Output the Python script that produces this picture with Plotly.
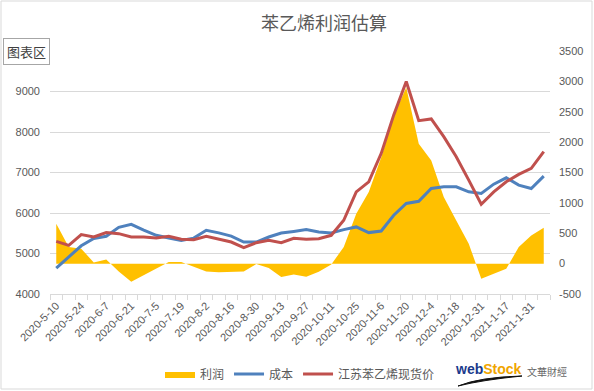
import plotly.graph_objects as go

# ---- data ----
dates = [
    "2020-5-10", "2020-5-17", "2020-5-24", "2020-5-31", "2020-6-7", "2020-6-14",
    "2020-6-21", "2020-6-28", "2020-7-5", "2020-7-12", "2020-7-19", "2020-7-26",
    "2020-8-2", "2020-8-9", "2020-8-16", "2020-8-23", "2020-8-30", "2020-9-6",
    "2020-9-13", "2020-9-20", "2020-9-27", "2020-10-4", "2020-10-11", "2020-10-18",
    "2020-10-25", "2020-11-1", "2020-11-6", "2020-11-13", "2020-11-20", "2020-11-27",
    "2020-12-4", "2020-12-11", "2020-12-18", "2020-12-25", "2020-12-31", "2021-1-8",
    "2021-1-17", "2021-1-24", "2021-1-31", "2021-2-7",
]
profit = [657, 272, 245, 20, 69, -130, -300, -190, -74, 25, 25, -57, -128, -140,
          -128, -128, -8, -74, -222, -178, -215, -135, -13, 272, 821, 1177, 1750,
          2440, 2900, 1973, 1699, 1095, 711, 327, -249, -167, -85, 272, 464, 591]
cost = [4640, 4920, 5190, 5370, 5424, 5645, 5721, 5580, 5449, 5383, 5320, 5380,
        5573, 5510, 5428, 5283, 5283, 5407, 5506, 5545, 5590, 5531, 5506, 5590,
        5656, 5516, 5556, 5944, 6234, 6290, 6605, 6646, 6646, 6522, 6481, 6712,
        6869, 6688, 6605, 6911]
price = [5300, 5201, 5466, 5407, 5516, 5490, 5407, 5407, 5383, 5424, 5350, 5342,
         5424, 5350, 5283, 5144, 5267, 5325, 5267, 5375, 5350, 5367, 5449, 5821,
         6522, 6770, 7473, 8422, 9246, 8281, 8322, 7884, 7389, 6811, 6217, 6522,
         6770, 6952, 7101, 7513]
left_ticks = [4000, 5000, 6000, 7000, 8000, 9000, 10000]
left_text = ["4000", "5000", "6000", "7000", "8000", "9000", ""]  # top label hidden by the 图表区 box
right_ticks = [-500, 0, 500, 1000, 1500, 2000, 2500, 3000, 3500]
tick_text = [d if i % 2 == 0 else "" for i, d in enumerate(dates)]

FONT = "Noto Sans CJK SC, Noto Sans, sans-serif"
NUMFONT = "Liberation Sans, Noto Sans CJK SC, sans-serif"
GRAY = "#595959"
GRID = "#d9d9d9"

fig = go.Figure()
fig.add_trace(go.Scatter(
    x=dates, y=profit, name="利润", yaxis="y", mode="lines",
    line=dict(width=0, color="#FFC000"), fill="tozeroy", fillcolor="#FFC000",
))
fig.add_trace(go.Scatter(
    x=dates, y=cost, name="成本", yaxis="y2", mode="lines",
    line=dict(width=3, color="#4F81BD"),
))
fig.add_trace(go.Scatter(
    x=dates, y=price, name="江苏苯乙烯现货价", yaxis="y2", mode="lines",
    line=dict(width=3, color="#C0504D"),
))

W, H = 594, 391
L, R, T, B = 50, 44, 51, 97
pw, ph = W - L - R, H - T - B


def px(xp):
    return (xp - L) / pw


def py(yp):
    return 1 - (yp - T) / ph


fig.update_layout(
    template="none",
    width=W, height=H, autosize=False,
    margin=dict(l=L, r=R, t=T, b=B, pad=0, autoexpand=False),
    paper_bgcolor="white", plot_bgcolor="white",
    font=dict(family=FONT, color=GRAY, size=11),
    title=dict(text="苯乙烯利润估算", x=324 / W, y=1 - 24 / H,
               xanchor="center", yanchor="middle",
               font=dict(family=FONT, size=18, color=GRAY)),
    showlegend=True,
    legend=dict(orientation="h", x=px(300), xanchor="center", y=py(374),
                yanchor="middle", font=dict(size=12, color=GRAY),
                bgcolor="rgba(0,0,0,0)", itemwidth=30, traceorder="normal"),
    xaxis=dict(type="category", categoryorder="array", categoryarray=dates,
               range=[-0.5, len(dates) - 0.5], automargin=False,
               tickmode="array", tickvals=dates, ticktext=tick_text,
               tickangle=-45, tickfont=dict(family=NUMFONT, size=11, color=GRAY),
               ticks="outside", ticklen=5, tickcolor=GRID, tickson="boundaries",
               showline=True, linecolor=GRID, linewidth=1,
               showgrid=False, zeroline=False),
    yaxis=dict(side="right", range=[-500, 3500], tickmode="array",
               tickvals=right_ticks, ticktext=[str(v) for v in right_ticks],
               automargin=False, showgrid=False, zeroline=False, showline=False,
               ticks="", ticklabelstandoff=8,
               tickfont=dict(family=NUMFONT, size=11, color=GRAY)),
    yaxis2=dict(side="left", overlaying="y", range=[4000, 10000], tickmode="array",
                tickvals=left_ticks, ticktext=left_text, automargin=False,
                showgrid=True, gridcolor=GRID, gridwidth=1,
                zeroline=False, showline=False, ticks="",
                ticklabelstandoff=9, tickfont=dict(family=NUMFONT, size=11, color=GRAY)),
)

# chart border
fig.add_shape(type="rect", xref="paper", yref="paper",
              x0=px(1), x1=px(592), y0=py(389), y1=py(1),
              line=dict(color=GRID, width=1), fillcolor="rgba(0,0,0,0)", layer="below")

# "图表区" tooltip box
fig.add_annotation(xref="paper", yref="paper", x=px(26.5), y=py(51),
                   xanchor="center", yanchor="middle", showarrow=False,
                   text="图表区", font=dict(family=FONT, size=13, color="#404040"),
                   bgcolor="white", bordercolor="#a6a6a6", borderwidth=1, borderpad=3)

# watermark logo
fig.add_annotation(xref="paper", yref="paper", x=px(453), y=py(369),
                   xanchor="left", yanchor="middle", showarrow=False,
                   text="<b><span style='color:#1b3a8c'>web</span>"
                        "<span style='color:#f0a500'>Stock</span></b>",
                   font=dict(family="Liberation Sans, sans-serif", size=14))
fig.add_annotation(xref="paper", yref="paper", x=px(525), y=py(371),
                   xanchor="left", yanchor="middle", showarrow=False,
                   text="文華財經", font=dict(family=FONT, size=10, color="#666666"))
fig.add_shape(type="path", xref="paper", yref="paper",
              path=f"M {px(458)},{py(386)} Q {px(480)},{py(377)} {px(522)},{py(376)} "
                   f"Q {px(482)},{py(380)} {px(458)},{py(386)} Z",
              line=dict(color="#111111", width=1), fillcolor="#111111")

fig.write_html("out.html", config={"displayModeBar": False},
               post_script="document.body.style.margin='0';")
